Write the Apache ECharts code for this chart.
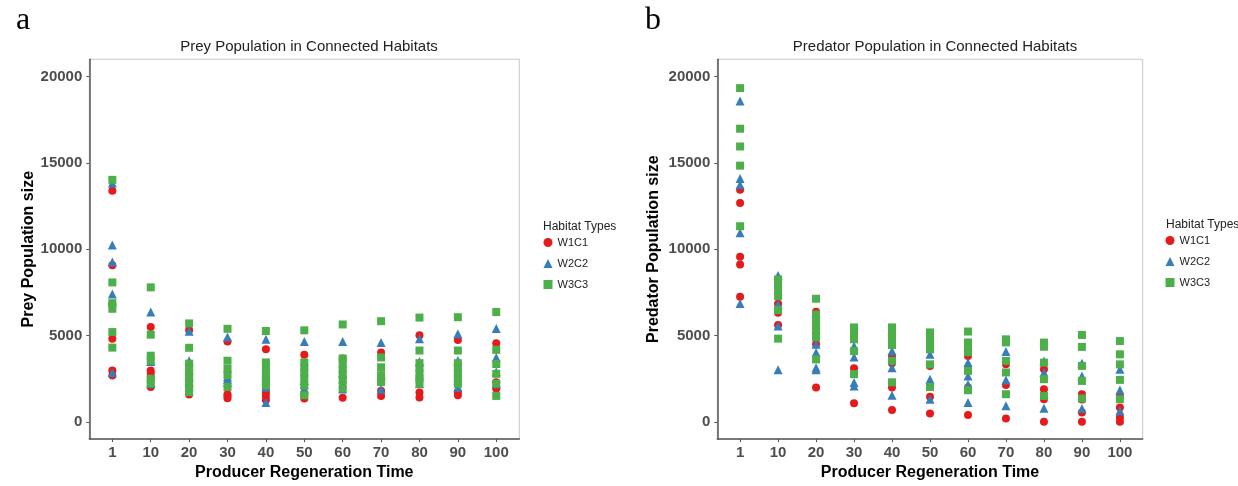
<!DOCTYPE html>
<html>
<head>
<meta charset="utf-8">
<script src="https://cdn.jsdelivr.net/npm/echarts@6/dist/echarts.min.js"></script>
<style>
html,body{margin:0;padding:0;background:#fff;}
#chart{width:1238px;height:486px;}
</style>
</head>
<body>
<div id="chart"></div>
<script>
const categories = ['1','10','20','30','40','50','60','70','80','90','100'];
const yTicks = [0, 5000, 10000, 15000, 20000];
const seriesNames = ['W1C1', 'W2C2', 'W3C3'];

// Prey population (panel a), values per category
const preyW1C1 = [
  [13390, 9070, 6820, 4820, 2970, 2690],
  [5500, 2970, 2800, 2600, 2020],
  [5310, 2500, 2020, 1580],
  [4650, 1600, 1500, 1370],
  [4210, 1940, 1700, 1500, 1260],
  [3890, 1600, 1350],
  [3670, 2600, 1390],
  [4020, 1800, 1500],
  [5010, 1700, 1410],
  [4740, 1730, 1540],
  [4550, 2300, 2000, 1920]
];
const preyW2C2 = [
  [13830, 10250, 9257, 7410, 2840],
  [6360, 3490, 2210],
  [5240, 3540, 3000, 2600, 2300],
  [4910, 2590, 2450, 2300],
  [4780, 2000, 1120],
  [4650, 2400, 2150, 1940],
  [4650, 2500, 2200, 1900],
  [4590, 2700, 1890],
  [4820, 3500, 2700, 2210],
  [5100, 3550, 2400, 2000],
  [5410, 3730, 2900, 2200]
];
const preyW3C3 = [
  [14017, 8076, 6875, 6550, 5200, 4300],
  [7790, 5050, 3830, 3540, 2500, 2230],
  [5700, 4290, 3370, 3100, 2850, 2600, 2290, 1950, 1720],
  [5390, 3540, 3070, 2700, 2020],
  [5260, 3440, 3150, 2850, 2550, 2300, 2110],
  [5300, 3440, 3150, 2850, 2500, 2110, 1540],
  [5640, 3670, 3350, 3050, 2750, 2400, 1940],
  [5830, 3730, 3160, 2700, 2450, 2300],
  [6040, 4130, 3400, 3100, 2800, 2500, 2200],
  [6060, 4130, 3400, 3100, 2800, 2500, 2200],
  [6360, 4170, 3350, 2780, 2210, 1500]
];

// Predator population (panel b), values per category
const predW1C1 = [
  [13450, 12680, 9560, 9120, 7250],
  [6840, 6320, 5610],
  [6380, 4490, 1990],
  [5010, 3100, 1080],
  [3810, 3400, 1990, 680],
  [3240, 1450, 490],
  [3810, 3140, 1990, 390],
  [3340, 2140, 200],
  [3050, 1890, 1310, 0],
  [1600, 1300, 540, 0],
  [1500, 830, 270, 0]
];
const predW2C2 = [
  [18590, 14090, 13740, 10950, 6860],
  [8480, 6800, 5550, 3010],
  [5360, 4490, 4010, 3140, 3010],
  [4390, 3760, 2280, 2080],
  [4100, 3140, 1540],
  [3910, 2470, 1310],
  [3430, 2660, 2180, 1120],
  [4070, 2430, 930],
  [3530, 2860, 790],
  [3390, 2660, 770],
  [3050, 1850, 640]
];
const predW3C3 = [
  [19330, 16980, 15950, 14840, 11330],
  [8250, 7900, 7670, 7280, 6470, 4820],
  [7130, 6220, 5900, 5600, 5300, 4890, 3620],
  [5470, 5100, 4780, 4100, 2760],
  [5470, 5100, 4800, 4450, 3530, 2290],
  [5180, 4900, 4500, 4200, 3330, 2020],
  [5230, 4600, 4300, 4030, 2950, 1830],
  [4780, 4600, 3530, 2860, 1600],
  [4590, 4350, 3430, 2470, 1500],
  [5030, 4340, 3240, 2370, 1350],
  [4680, 3910, 3330, 2430, 1310]
];

const colors = ['#E41A1C', '#377EB8', '#4DAF4A'];
const symbols = ['circle', 'triangle', 'rect'];
const symSizes = [8, 9, 8];
const FONT = 'Liberation Sans, Arial, sans-serif';

function toPoints(groups) {
  const out = [];
  groups.forEach((vals, i) => vals.forEach(v => out.push([i, v])));
  return out;
}

const chart = echarts.init(document.getElementById('chart'), null, {renderer: 'canvas'});

function xAxisCfg(gridIndex) {
  return {
    type: 'value', gridIndex: gridIndex, min: -0.6, max: 10.6,
    name: 'Producer Regeneration Time', nameLocation: 'middle', nameGap: 23,
    nameTextStyle: {fontFamily: FONT, fontSize: 16, fontWeight: 'bold', color: '#000'},
    axisLine: {show: true, onZero: false, lineStyle: {color: '#555', width: 1.5}},
    axisTick: {show: true, length: 3, lineStyle: {color: '#555'}, customValues: categories.map((c, i) => i)},
    axisLabel: {
      customValues: categories.map((c, i) => i), margin: 6,
      formatter: v => categories[Math.round(v)],
      fontFamily: FONT, fontSize: 15, fontWeight: 'bold', color: '#4D4D4D'
    },
    splitLine: {show: false}
  };
}
function yAxisCfg(gridIndex, name, gap) {
  return {
    type: 'value', gridIndex: gridIndex, min: -1000, max: 21000,
    name: name, nameLocation: 'middle', nameGap: gap, nameRotate: 90,
    nameTextStyle: {fontFamily: FONT, fontSize: 16, fontWeight: 'bold', color: '#000'},
    axisLine: {show: true, onZero: false, lineStyle: {color: '#555', width: 1.5}},
    axisTick: {show: true, length: 3, lineStyle: {color: '#555'}, customValues: yTicks},
    axisLabel: {
      customValues: yTicks, margin: 7,
      formatter: v => String(v),
      fontFamily: FONT, fontSize: 15, fontWeight: 'bold', color: '#4D4D4D'
    },
    splitLine: {show: false}
  };
}

const panels = [
  [preyW1C1, preyW2C2, preyW3C3],
  [predW1C1, predW2C2, predW3C3]
];
const series = [];
panels.forEach((groups, p) => {
  groups.forEach((g, s) => {
    series.push({
      type: 'scatter', name: seriesNames[s], xAxisIndex: p, yAxisIndex: p,
      symbol: symbols[s], symbolSize: symSizes[s],
      itemStyle: {color: colors[s], opacity: 1},
      data: toPoints(g), z: 2 + s
    });
  });
});

function legendCfg(left, top) {
  return {
    orient: 'vertical', left: left, top: top, padding: 0,
    itemWidth: 9, itemHeight: 9, itemGap: 10,
    data: seriesNames.map((n, i) => ({name: n, icon: symbols[i]})),
    textStyle: {fontFamily: FONT, fontSize: 11, color: '#222'},
    selectedMode: false
  };
}

const option = {
  animation: false,
  backgroundColor: '#fff',
  title: [
    {text: 'Prey Population in Connected Habitats', left: 304, top: 34, textAlign: 'center',
     textStyle: {fontFamily: FONT, fontSize: 15, fontWeight: 'normal', color: '#222'}},
    {text: 'Predator Population in Connected Habitats', left: 930, top: 34, textAlign: 'center',
     textStyle: {fontFamily: FONT, fontSize: 15, fontWeight: 'normal', color: '#222'}},
    {text: 'Habitat Types', left: 538, top: 216,
     textStyle: {fontFamily: FONT, fontSize: 12, fontWeight: 'normal', color: '#222'}},
    {text: 'Habitat Types', left: 1161, top: 214,
     textStyle: {fontFamily: FONT, fontSize: 12, fontWeight: 'normal', color: '#222'}},
    {text: 'a', left: 11, top: 0,
     textStyle: {fontFamily: 'Liberation Serif, Times New Roman, serif', fontSize: 32, fontWeight: 'normal', color: '#000'}},
    {text: 'b', left: 640, top: 0,
     textStyle: {fontFamily: 'Liberation Serif, Times New Roman, serif', fontSize: 32, fontWeight: 'normal', color: '#000'}}
  ],
  legend: [legendCfg(543.5, 237), legendCfg(1165.5, 235)],
  grid: [
    {left: 89.3, top: 59.3, width: 430, height: 385, show: true, borderColor: '#c8c8c8', borderWidth: 1, backgroundColor: '#fff'},
    {left: 717.3, top: 59.3, width: 425.4, height: 381, show: true, borderColor: '#c8c8c8', borderWidth: 1, backgroundColor: '#fff'}
  ],
  xAxis: [xAxisCfg(0), xAxisCfg(1)],
  yAxis: [yAxisCfg(0, 'Prey Population size', 46), yAxisCfg(1, 'Predator Population size', 56)],
  series: series
};
chart.setOption(option);
</script>
</body>
</html>
